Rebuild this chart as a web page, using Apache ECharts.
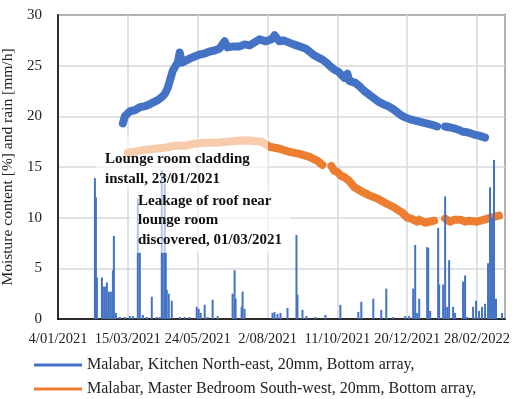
<!DOCTYPE html>
<html>
<head>
<meta charset="utf-8">
<script src="https://cdn.jsdelivr.net/npm/echarts@6/dist/echarts.min.js"></script>
<style>
  html, body { margin: 0; padding: 0; background: #fff; }
  #chart { width: 512px; height: 399px; }
</style>
</head>
<body>
<div id="chart"></div>
<script>
// x values are days since 4/01/2021
var startDate = Date.UTC(2021, 0, 4);
var xMax = 448;
var xStep = 70;

var kitchenName = "Malabar, Kitchen North-east, 20mm, Bottom array,";
var kitchenDays = [65, 67, 72, 77, 82, 87, 92, 96, 100, 104, 107, 110, 113, 115, 118, 120, 122, 124, 128, 132, 137, 142, 147, 152, 157, 162, 167, 170, 176, 182, 187, 192, 197, 202, 208, 214, 217, 222, 226, 231, 236, 242, 248, 252, 257, 261, 265, 269, 272, 277, 281, 287, 290, 292, 298, 303, 307, 311, 315, 322, 326, 331, 336, 340, 344, 348, 353, 357, 361, 365, 369, 373, 377, 380, 384, 388, 393, 397, 401, 405, 411, 417, 422, 428];
var kitchenVals = [19.3, 20.0, 20.5, 20.6, 20.9, 21.0, 21.2, 21.4, 21.6, 21.9, 22.2, 22.8, 23.8, 24.5, 25.0, 25.3, 26.3, 25.3, 25.5, 25.7, 25.9, 26.1, 26.2, 26.4, 26.5, 26.7, 27.4, 26.8, 26.9, 26.9, 27.1, 27.0, 27.3, 27.6, 27.4, 27.6, 28.0, 27.4, 27.5, 27.3, 27.1, 26.9, 26.7, 26.4, 26.0, 25.8, 25.6, 25.3, 25.0, 24.6, 24.4, 23.8, 24.2, 23.5, 23.3, 22.9, 22.5, 22.2, 21.9, 21.4, 21.2, 21.0, 20.7, 20.4, 20.1, 19.9, 19.7, 19.6, 19.5, 19.4, 19.3, 19.2, 19.1, 19.0, null, 19.0, 18.9, 18.8, 18.7, 18.5, 18.4, 18.2, 18.1, 17.9];

var bedroomName = "Malabar, Master Bedroom South-west, 20mm, Bottom array,";
var bedroomDays = [70, 77, 87, 97, 107, 117, 127, 137, 147, 157, 170, 182, 192, 204, 212, 222, 232, 242, 252, 260, 265, 269, 274, 277, 280, 284, 287, 292, 297, 304, 312, 320, 329, 337, 345, 350, 354, 360, 362, 368, 370, 377, 380, 388, 393, 397, 404, 408, 412, 420, 427, 434, 442];
var bedroomVals = [16.4, 16.5, 16.7, 16.8, 16.9, 17.1, 17.1, 17.3, 17.4, 17.4, 17.5, 17.6, 17.6, 17.5, 17.0, 16.8, 16.5, 16.3, 16.0, 15.6, 15.2, null, 15.1, 14.6, 14.5, 14.1, 14.0, 13.6, 13.0, 12.6, 12.2, 11.9, 11.4, 11.0, 10.5, 10.0, 9.9, 9.6, 9.8, 9.5, 9.6, 9.7, null, 9.9, 9.6, 9.8, 9.8, 9.6, 9.7, 9.6, 9.8, 10.0, 10.2];

var rainName = "Rain";
var rainDays = [37, 38, 39, 44, 45, 47, 49, 51, 53, 55, 56, 58, 62, 67, 72, 75, 80, 82, 85, 89, 94, 99, 102, 104, 105, 107, 108, 109, 111, 114, 122, 127, 132, 139, 141, 143, 147, 150, 155, 160, 175, 177, 178, 184, 185, 187, 215, 217, 220, 223, 230, 239, 240, 245, 249, 258, 268, 283, 301, 304, 316, 324, 329, 336, 348, 352, 356, 358, 360, 362, 370, 371, 373, 381, 382, 386, 388, 390, 392, 396, 398, 406, 408, 410, 416, 419, 422, 425, 428, 431, 433, 435, 437, 439, 445];
var rainVals = [13.9, 12.0, 4.1, 4.1, 3.2, 3.2, 3.6, 2.7, 2.7, 4.8, 8.2, 0.6, 0.2, 0.2, 0.3, 0.3, 11.9, 6.6, 0.4, 0.2, 2.2, 0.2, 0.2, 14.7, 6.6, 13.4, 6.6, 2.9, 2.5, 1.8, 0.2, 0.2, 0.2, 1.2, 1.0, 0.6, 1.4, 0.2, 1.9, 0.3, 2.5, 4.8, 2.0, 1.2, 2.7, 1.0, 0.6, 0.7, 0.5, 0.6, 1.1, 8.3, 2.4, 0.9, 0.3, 0.2, 0.4, 1.4, 0.7, 1.7, 2.0, 0.9, 3.0, 0.2, 0.3, 0.3, 3.0, 7.3, 0.6, 2.0, 7.1, 7.0, 0.8, 9.0, 3.4, 3.4, 12.1, 1.2, 5.8, 1.2, 0.6, 3.7, 4.3, 0.2, 1.2, 1.8, 0.8, 1.2, 1.5, 5.5, 13.0, 10.0, 15.7, 2.0, 0.6];

var yTitle = "Moisture content [%] and rain [mm/h]";
var note1 = ["Lounge room cladding", "install, 23/01/2021"];
var note2 = ["Leakage of roof near", "lounge room", "discovered, 01/03/2021"];

// split a series into unbroken runs at the null values
function runs(xs, ys) {
  var out = [], cur = [];
  xs.forEach(function (x, i) {
    if (ys[i] == null) {
      if (cur.length) out.push(cur);
      cur = [];
    } else {
      cur.push([x, ys[i]]);
    }
  });
  if (cur.length) out.push(cur);
  return out;
}

function dayLabel(d) {
  var dt = new Date(startDate + d * 86400000);
  var m = dt.getUTCMonth() + 1;
  return dt.getUTCDate() + "/" + (m < 10 ? "0" + m : m) + "/" + dt.getUTCFullYear();
}

function lineSeries(name, color, xs, ys) {
  return runs(xs, ys).map(function (seg) {
    return {
      name: name,
      type: "line",
      z: 2,
      symbol: "none",
      color: color,
      lineStyle: { width: 8, color: color, cap: "round", join: "round" },
      data: seg,
    };
  });
}

var serif = "'Liberation Serif', serif";
var chart = echarts.init(document.getElementById("chart"));

var series = []
  .concat(lineSeries(kitchenName, "#4472C4", kitchenDays, kitchenVals))
  .concat(lineSeries(bedroomName, "#ED7D31", bedroomDays, bedroomVals));
series.push({
  name: rainName,
  type: "bar",
  z: 3,
  barWidth: 2,
  itemStyle: { color: "#4472C4" },
  data: rainDays.map(function (d, i) { return [d, rainVals[i]]; }),
});

chart.setOption({
  animation: false,
  grid: {
    left: 58,
    top: 15,
    right: 7,
    bottom: 80,
    outerBoundsMode: "none",
    containLabel: false,
    show: true,
    borderColor: "#000",
    borderWidth: 1.5,
  },
  legend: {
    data: [
      { name: kitchenName, itemStyle: { color: "#4472C4" } },
      { name: bedroomName, itemStyle: { color: "#ED7D31" } },
    ],
    orient: "vertical",
    left: 34,
    top: 357,
    height: 60,
    padding: 0,
    icon: "rect",
    itemWidth: 48,
    itemHeight: 3,
    itemGap: 8,
    textStyle: { fontFamily: serif, fontSize: 16, color: "#222" },
  },
  xAxis: {
    type: "value",
    min: 0,
    max: xMax,
    interval: xStep,
    axisLine: { lineStyle: { color: "#000", width: 1.5 } },
    axisTick: { show: false },
    splitLine: { lineStyle: { color: "#d9d9d9", width: 1.5 } },
    axisLabel: {
      showMaxLabel: false,
      hideOverlap: false,
      margin: 13,
      fontFamily: serif,
      fontSize: 14.5,
      color: "#222",
      formatter: dayLabel,
    },
  },
  yAxis: {
    type: "value",
    min: 0,
    max: 30,
    interval: 5,
    name: yTitle,
    nameLocation: "middle",
    nameGap: 38,
    nameTextStyle: { fontFamily: serif, fontSize: 15.5, color: "#222" },
    axisLine: { show: true, lineStyle: { color: "#000", width: 1.5 } },
    axisTick: { show: false },
    splitLine: { lineStyle: { color: "#d9d9d9", width: 1.5 } },
    axisLabel: { margin: 16, fontFamily: serif, fontSize: 15, color: "#222" },
  },
  graphic: [
    {
      type: "rect",
      z: 100,
      shape: { x: 96, y: 137, width: 172, height: 53 },
      style: { fill: "rgba(255,255,255,0.6)" },
    },
    {
      type: "rect",
      z: 100,
      shape: { x: 130, y: 190, width: 160, height: 63 },
      style: { fill: "rgba(255,255,255,0.6)" },
    },
    {
      type: "text",
      z: 101,
      left: 105,
      top: 149,
      style: {
        text: note1.join("\n"),
        font: "bold 15px " + serif,
        lineHeight: 20,
        fill: "#111",
      },
    },
    {
      type: "text",
      z: 101,
      left: 138,
      top: 191,
      style: {
        text: note2.join("\n"),
        font: "bold 15px " + serif,
        lineHeight: 19.5,
        fill: "#111",
      },
    },
  ],
  series: series,
});
</script>
</body>
</html>
